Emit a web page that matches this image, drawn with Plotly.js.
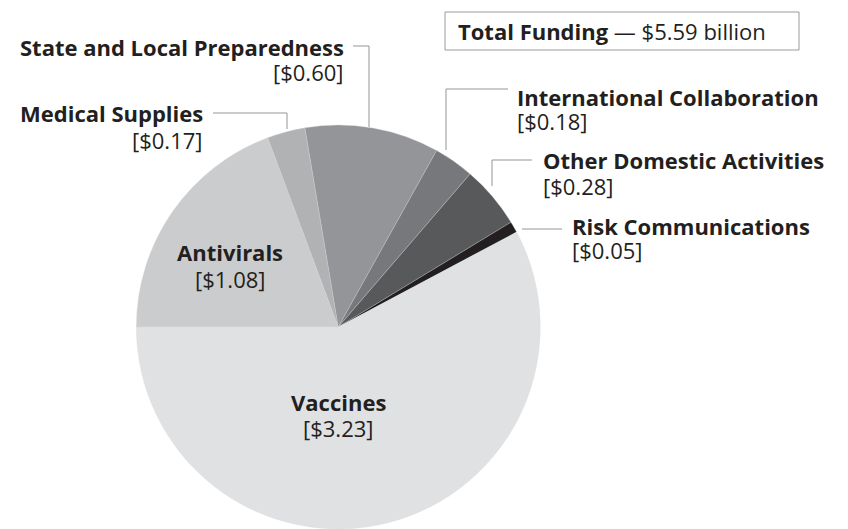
<!DOCTYPE html>
<html>
<head>
<meta charset="utf-8">
<script src="https://cdn.plot.ly/plotly-3.0.1.min.js"></script>
<style>html,body{margin:0;padding:0;background:#fff;}#chart{width:848px;height:529px;}</style>
</head>
<body>
<div id="chart"></div>
<script>
// Data (billions of dollars), clockwise from 9 o'clock
const categories = ["Antivirals", "Medical Supplies", "State and Local Preparedness", "International Collaboration", "Other Domestic Activities", "Risk Communications", "Vaccines"];
const values = [1.08, 0.17, 0.60, 0.18, 0.28, 0.05, 3.23];
const totalText = "$5.59 billion";
const colors = ["#cbcccd", "#b1b2b4", "#939598", "#77787b", "#58595b", "#231f20", "#e0e1e3"];

const W = 848, H = 529;
const FONT = "Open Sans, sans-serif";
const TXT = "#231f20";
const px = x => x / W;
const py = y => 1 - y / H;

// label placement (pixels): [x, labelY, valueY, xanchor]
const labelPos = {
  "Antivirals": [230, 252, 279, "center"],
  "Medical Supplies": [205, 113, 140, "right"],
  "State and Local Preparedness": [346, 47, 72, "right"],
  "International Collaboration": [515, 97, 121, "left"],
  "Other Domestic Activities": [541, 160, 186, "left"],
  "Risk Communications": [570, 226, 250, "left"],
  "Vaccines": [338, 402, 428, "center"]
};

const annotations = [];
categories.forEach((c, i) => {
  const p = labelPos[c];
  annotations.push({
    xref: "paper", yref: "paper", x: px(p[0]), y: py(p[1]),
    xanchor: p[3], yanchor: "middle", showarrow: false,
    text: "<b>" + c + "</b>",
    font: {family: FONT, size: 22, color: TXT}
  });
  annotations.push({
    xref: "paper", yref: "paper", x: px(p[0]), y: py(p[2]),
    xanchor: p[3], yanchor: "middle", showarrow: false,
    text: "[$" + values[i].toFixed(2) + "]",
    font: {family: FONT, size: 22, color: TXT}
  });
});
annotations.push({
  xref: "paper", yref: "paper", x: px(456), y: py(31), xanchor: "left", yanchor: "middle",
  showarrow: false, text: "<b>Total Funding</b> — " + totalText,
  font: {family: FONT, size: 22, color: TXT}
});

const lc = "#939598";
const seg = (x0, y0, x1, y1) => ({type: "line", xref: "paper", yref: "paper", x0: px(x0), y0: py(y0), x1: px(x1), y1: py(y1), line: {color: lc, width: 1}});
const shapes = [
  {type: "rect", xref: "paper", yref: "paper", x0: px(445), x1: px(799), y0: py(12), y1: py(50), line: {color: "#999a9c", width: 1}},
  seg(353, 46, 369, 46), seg(369, 46, 369, 127),
  seg(213, 113, 287, 113), seg(287, 113, 287, 129),
  seg(508, 89, 446, 89), seg(446, 89, 446, 150),
  seg(532, 160, 492, 160), seg(492, 160, 492, 186),
  seg(562, 229, 522, 229)
];

const trace = {
  type: "pie", labels: categories, values: values, sort: false,
  direction: "clockwise", rotation: -90,
  marker: {colors: colors, line: {color: "#d8d8da", width: 0.3}},
  textinfo: "none", textposition: "none", hoverinfo: "label+value",
  domain: {x: [px(338.3 - 300), px(338.3 + 300)], y: [0, 404 / H]}
};

Plotly.newPlot("chart", [trace], {
  width: W, height: H, margin: {l: 0, r: 0, t: 0, b: 0},
  paper_bgcolor: "#fff", showlegend: false,
  annotations: annotations, shapes: shapes
}, {displayModeBar: false, staticPlot: true});
</script>
</body>
</html>
